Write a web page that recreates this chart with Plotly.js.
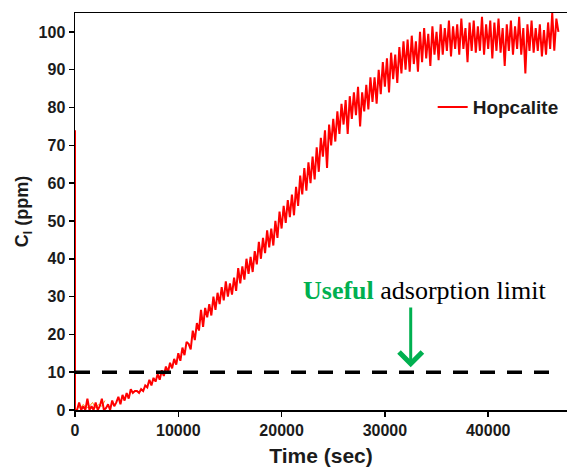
<!DOCTYPE html>
<html>
<head>
<meta charset="utf-8">
<script src="https://cdn.plot.ly/plotly-3.0.1.min.js"></script>
<style>html,body{margin:0;padding:0;background:#fff;}#chart{width:567px;height:468px;}</style>
</head>
<body>
<div id="chart"></div>
<script>
// Time (sec)
const timeSec = [0,0,200,400,600,800,1000,1200,1400,1600,1800,2000,2200,2400,2600,2800,
3000,3200,3400,3600,3800,4000,4200,4400,4600,4800,
5000,5200,5400,5600,5800,6000,6200,6400,6600,6800,
7000,7200,7400,7600,7800,8000,8200,8400,8600,8800,
9000,9200,9400,9600,9800,10000,10200,10400,10600,10800,
11000,11200,11400,11600,11800,12000,12200,12400,12600,12800,
13000,13200,13400,13600,13800,14000,14200,14400,14600,14800,
15000,15200,15400,15600,15800,16000,16200,16400,16600,16800,
17000,17200,17400,17600,17800,18000,18200,18400,18600,18800,
19000,19200,19400,19600,19800,20000,20200,20400,20600,20800,
21000,21200,21400,21600,21800,22000,22200,22400,22600,22800,
23000,23200,23400,23600,23800,24000,24200,24400,24600,24800,
25000,25200,25400,25600,25800,26000,26200,26400,26600,26800,
27000,27200,27400,27600,27800,28000,28200,28400,28600,28800,
29000,29200,29400,29600,29800,30000,30200,30400,30600,30800,
31000,31200,31400,31600,31800,32000,32200,32400,32600,32800,
33000,33200,33400,33600,33800,34000,34200,34400,34600,34800,
35000,35200,35400,35600,35800,36000,36200,36400,36600,36800,
37000,37200,37400,37600,37800,38000,38200,38400,38600,38800,
39000,39200,39400,39600,39800,40000,40200,40400,40600,40800,
41000,41200,41400,41600,41800,42000,42200,42400,42600,42800,
43000,43200,43400,43600,43800,44000,44200,44400,44600,44800,
45000,45200,45400,45600,45800,46000,46200,46400,46600,46800];

// Hopcalite outlet concentration (ppm)
const hopcalite = [74,0,0,2,0,1,0,3,0,1,0,2,0,1,3,0,
0.5,1.5,0,2.5,1,2,3.5,1.5,4,2.5,
4.5,3,5.5,4.5,5,5,4.5,5.5,5,6.5,
6,8,6.5,8.5,7.5,9.5,8,10.5,9,11.5,
10,12.5,11,13.5,12,15,13,16.5,14.5,18,
17.5,16,21,18.5,23,21,26.5,22,27,24.5,
28,25,30,26.5,31,28,32.5,29,34,30,
33.5,30.5,35,31.5,37.5,33.5,38,34.5,40,36,
40.5,36.5,42,38.5,44.5,40,45.5,41.5,47.5,43,
48,43.5,50,45.5,52.5,48,54,49.5,55.5,51,
57,51.5,59,54,62,57,64,58,65.5,60,
67,61,69.5,63,72,67,74,64,75.5,70,
77,71,79,73,81,75.5,82,73,83,77,
84,78,85.5,75,84,79,86,79.5,88,81.5,
88,81,90,83.5,92,85.5,93,84,94.5,87.5,
94,86.5,96,89,97.5,90,98,89.5,99,91.5,
97.5,89.5,100,92,101,93,99.5,91,101.5,94,
100,92.5,102,94,101,95,103,93.5,101.5,95.5,
102,94,103.5,95.5,101,92,102.5,95,103,94.5,
101.5,95,104,94,102,95.5,103,93,102.5,95,
103.5,94.5,101,91,102,95,103,94,101.5,95.5,
104,94,101,89,102,95,103,94.5,101,95,
102,93.5,100.5,94,102.5,95.5,105,95,103.5,100];

// Early-stage low-level readings
const earlyTime = [200,500,800,1100,1400,1700,2000,2300,2600,2900];
const earlyVals = [1,0.5,1.5,0.5,1,2,0.5,1.5,1,2.5];

const usefulLimit = 10;      // ppm
const arrowTime = 32500;     // sec
const arrowTop = 27.5;       // ppm

const xTicks = [0,10000,20000,30000,40000];
const yTicks = [0,10,20,30,40,50,60,70,80,90,100];

const sans = 'Liberation Sans, Arial, sans-serif';
const tickFont = {family:sans, size:16, color:'#1b1b1b', weight:'bold'};

const traces = [
  {x: earlyTime, y: earlyVals, type:'scatter', mode:'lines', line:{color:'#f0a020', width:1}, showlegend:false, hoverinfo:'skip'},
  {x: timeSec, y: hopcalite, type:'scatter', mode:'lines', name:'Hopcalite', line:{color:'#ff0000', width:2}}
];

const layout = {
  width:567, height:468,
  margin:{l:75, r:0, t:13, b:58},
  paper_bgcolor:'#fff', plot_bgcolor:'#fff',
  showlegend:true,
  legend:{x:0.727, y:0.763, xanchor:'left', yanchor:'middle', bgcolor:'rgba(0,0,0,0)', borderwidth:0,
          font:{family:sans, size:19, color:'#1b1b1b', weight:'bold'}},
  xaxis:{range:[0,47630], tickvals:xTicks, ticktext:xTicks.map(String), ticks:'outside', ticklen:5, tickwidth:1.5, tickcolor:'#000',
         showline:true, linecolor:'#000', linewidth:1.5, mirror:true, showgrid:false, zeroline:false,
         tickfont:tickFont,
         title:{text:'Time (sec)', font:{family:sans, size:21, color:'#1b1b1b', weight:'bold'}, standoff:10}},
  yaxis:{range:[0,105], tickvals:yTicks, ticktext:yTicks.map(String), ticks:'outside', ticklen:5, tickwidth:1.5, tickcolor:'#000',
         showline:true, linecolor:'#000', linewidth:1.5, showgrid:false, zeroline:false,
         tickfont:tickFont,
         title:{text:'C<sub>l</sub> (ppm)', font:{family:sans, size:18, color:'#1b1b1b', weight:'bold'}, standoff:5}},
  shapes:[
    {type:'line', xref:'x', yref:'y', x0:0, x1:46500, y0:usefulLimit, y1:usefulLimit,
     line:{color:'#000', width:3.5, dash:'15px,12px'}}
  ],
  annotations:[
    {xref:'x', yref:'y', x:arrowTime, y:usefulLimit+1.3, axref:'x', ayref:'y', ax:arrowTime, ay:arrowTop,
     text:'', showarrow:true, arrowhead:4, arrowsize:1.5, arrowwidth:3, arrowcolor:'#00b050'},
    {xref:'paper', yref:'paper', x:0.711, y:0.300, xanchor:'center', yanchor:'middle', showarrow:false,
     text:'<b><span style="color:#00b050">Useful</span></b> adsorption limit',
     font:{family:'Liberation Serif, Times New Roman, serif', size:26, color:'#000'}}
  ]
};

Plotly.newPlot('chart', traces, layout, {displayModeBar:false, staticPlot:true});
</script>
</body>
</html>
